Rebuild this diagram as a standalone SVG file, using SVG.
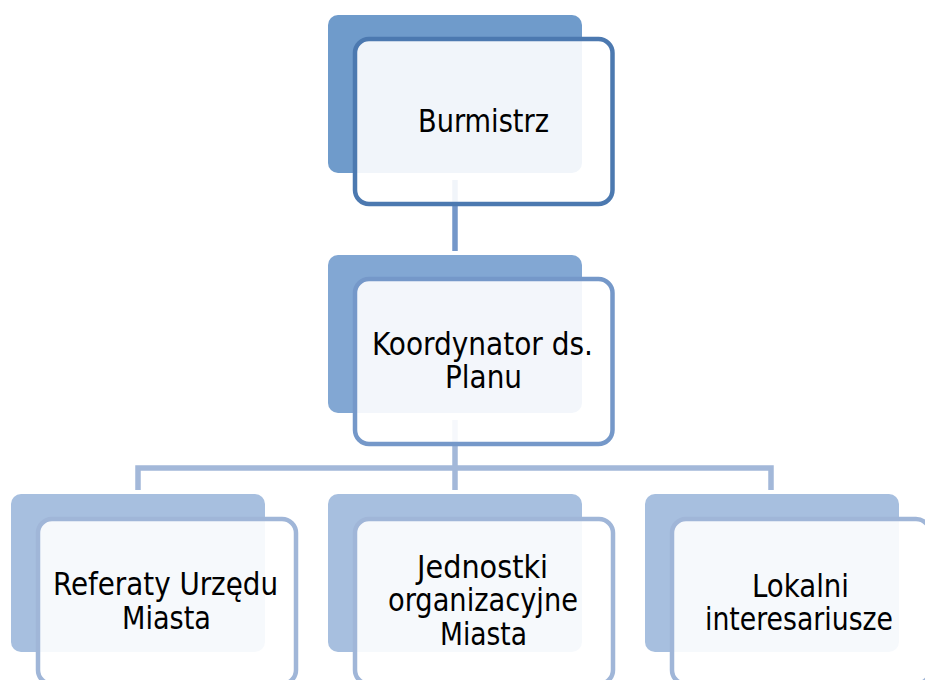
<svg xmlns="http://www.w3.org/2000/svg" width="925" height="680" viewBox="0 0 925 680">
<style>
.front{fill:#ffffff;fill-opacity:0.9;stroke-width:4.5}
.t{font-family:"DejaVu Sans Condensed","DejaVu Sans",sans-serif;font-stretch:condensed;font-size:32px;fill:#000;text-anchor:middle}
.c{fill:none;stroke-width:5.5;stroke-linejoin:miter;stroke-linecap:butt}
</style>
<rect width="925" height="680" fill="#ffffff"/>
<g id="connectors">
<path class="c" d="M455,180 V251" stroke="#7497c9"/>
<path class="c" d="M455,420 V490" stroke="#a3b8d9"/>
<path class="c" d="M138,490 V468 H771 V490" stroke="#a3b8d9"/>
</g>
<g id="burmistrz">
<rect x="328" y="15" width="254" height="158" rx="10" fill="#6f9bcb"/>
<rect class="front" x="355" y="39" width="257.5" height="165" rx="14" stroke="#4c79b0"/>
<text class="t" x="483.5" y="132" textLength="131" lengthAdjust="spacingAndGlyphs">Burmistrz</text>
</g>
<g id="koordynator">
<rect x="328" y="255" width="254" height="158" rx="10" fill="#82a7d3"/>
<rect class="front" x="355" y="279" width="257.5" height="165" rx="14" stroke="#7598c9"/>
<text class="t" x="482.5" y="355" textLength="221" lengthAdjust="spacingAndGlyphs">Koordynator ds.</text>
<text class="t" x="483.5" y="388" textLength="77" lengthAdjust="spacingAndGlyphs">Planu</text>
</g>
<g id="referaty">
<rect x="11" y="494" width="254" height="158" rx="10" fill="#a7bfdf"/>
<rect class="front" x="38" y="519" width="258" height="165" rx="14" stroke="#a0b6d8"/>
<text class="t" x="165.5" y="595" textLength="225" lengthAdjust="spacingAndGlyphs">Referaty Urzędu</text>
<text class="t" x="166.5" y="629" textLength="89" lengthAdjust="spacingAndGlyphs">Miasta</text>
</g>
<g id="jednostki">
<rect x="328" y="494" width="254" height="158" rx="10" fill="#a7bfdf"/>
<rect class="front" x="355" y="519" width="258" height="165" rx="14" stroke="#a0b6d8"/>
<text class="t" x="482.5" y="578" textLength="131" lengthAdjust="spacingAndGlyphs">Jednostki</text>
<text class="t" x="483" y="611" textLength="190" lengthAdjust="spacingAndGlyphs">organizacyjne</text>
<text class="t" x="483.5" y="645" textLength="87" lengthAdjust="spacingAndGlyphs">Miasta</text>
</g>
<g id="lokalni">
<rect x="645" y="494" width="254" height="158" rx="10" fill="#a7bfdf"/>
<rect class="front" x="672" y="519" width="258" height="165" rx="14" stroke="#a0b6d8"/>
<text class="t" x="800.5" y="597" textLength="97" lengthAdjust="spacingAndGlyphs">Lokalni</text>
<text class="t" x="799" y="630" textLength="188" lengthAdjust="spacingAndGlyphs">interesariusze</text>
</g>
</svg>
